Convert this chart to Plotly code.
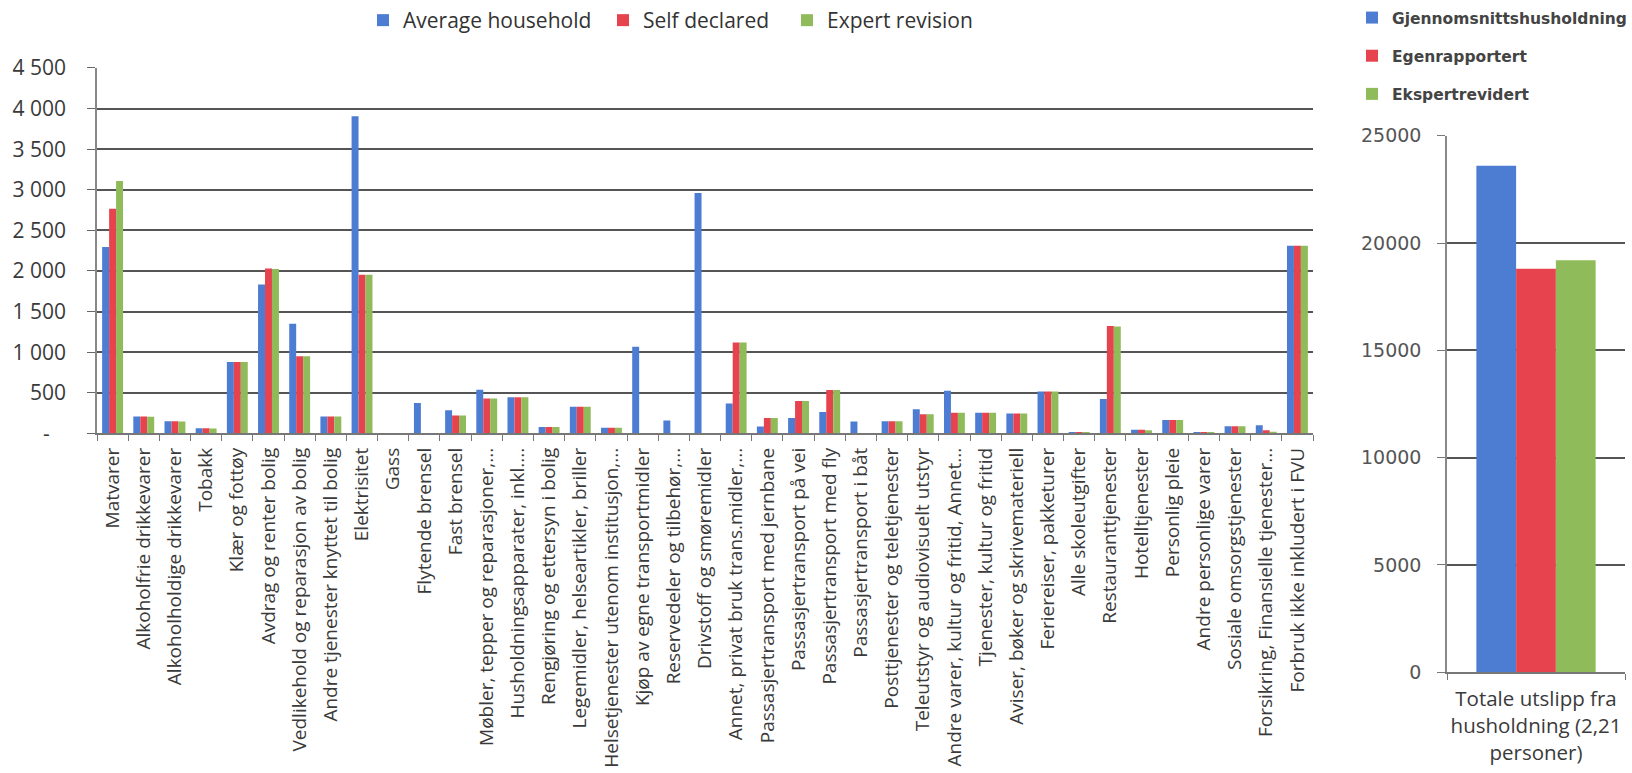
import plotly.graph_objects as go

W, H = 1632, 773

categories = [
    "Matvarer", "Alkoholfrie drikkevarer", "Alkoholholdige drikkevarer", "Tobakk",
    "Klær og fottøy", "Avdrag og renter bolig", "Vedlikehold og reparasjon av bolig",
    "Andre tjenester knyttet til bolig", "Elektrisitet", "Gass", "Flytende brensel",
    "Fast brensel", "Møbler, tepper og reparasjoner,...", "Husholdningsapparater, inkl....",
    "Rengjøring og ettersyn i bolig", "Legemidler, helseartikler, briller",
    "Helsetjenester utenom institusjon,...", "Kjøp av egne transportmidler",
    "Reservedeler og tilbehør,...", "Drivstoff og smøremidler",
    "Annet, privat bruk trans.midler,...", "Passasjertransport med jernbane",
    "Passasjertransport på vei", "Passasjertransport med fly", "Passasjertransport i båt",
    "Posttjenester og teletjenester", "Teleutstyr og audiovisuelt utstyr",
    "Andre varer, kultur og fritid, Annet...", "Tjenester, kultur og fritid",
    "Aviser, bøker og skrivemateriell", "Feriereiser, pakketurer", "Alle skoleutgifter",
    "Restauranttjenester", "Hotelltjenester", "Personlig pleie", "Andre personlige varer",
    "Sosiale omsorgstjenester", "Forsikring, Finansielle tjenester...",
    "Forbruk ikke inkludert i FVU",
]

average_household = [
    2295, 210, 150, 65, 880, 1835, 1350, 210, 3905, 0, 375,
    285, 537, 445, 78, 328, 70, 1067, 160, 2960, 370, 85,
    190, 265, 148, 150, 298, 527, 255, 245, 515, 8,
    425, 45, 165, 18, 88, 100, 2310,
]
self_declared = [
    2766, 210, 150, 65, 880, 2029, 950, 210, 1955, 0, 0,
    222, 430, 445, 78, 328, 70, 0, 5, 0, 1118, 190,
    400, 535, 0, 150, 235, 256, 255, 245, 515, 8,
    1322, 45, 165, 18, 88, 40, 2310,
]
expert_revision = [
    3107, 205, 148, 60, 880, 2025, 950, 210, 1955, 0, 0,
    222, 430, 445, 78, 328, 70, 0, 5, 0, 1118, 190,
    400, 535, 0, 150, 235, 256, 255, 245, 515, 8,
    1318, 40, 165, 15, 88, 22, 2310,
]

left_names = ["Average household", "Self declared", "Expert revision"]
left_tickvals = [0, 500, 1000, 1500, 2000, 2500, 3000, 3500, 4000, 4500]
left_ticktext = ["-\u00a0\u00a0\u00a0", "500", "1 000", "1 500", "2 000", "2 500",
                 "3 000", "3 500", "4 000", "4 500"]

total_category = ["Totale utslipp fra<br>husholdning (2,21<br>personer)"]
total_names = ["Gjennomsnittshusholdning", "Egenrapportert", "Ekspertrevidert"]
total_values = [23600, 18800, 19200]
right_tickvals = [0, 5000, 10000, 15000, 20000, 25000]

colors = ["#4d7dd2", "#e6434f", "#90bb5b"]
left_legend_widths = [195, 139, 150]

fig = go.Figure()

for name, vals, col, lw in zip(left_names, [average_household, self_declared, expert_revision],
                               colors, left_legend_widths):
    fig.add_trace(go.Bar(
        x=categories, y=vals, name=name, marker=dict(color=col, line=dict(width=0)),
        xaxis="x", yaxis="y", legend="legend", legendwidth=lw,
    ))

for i, (name, val, col) in enumerate(zip(total_names, total_values, colors)):
    fig.add_trace(go.Bar(
        x=total_category, y=[val], name=name, marker=dict(color=col, line=dict(width=0)),
        xaxis="x2", yaxis="y2", legend="legend2", legendgroup=f"g{i}",
    ))

def px_x(p):
    return p / W

def px_y(p):
    return 1 - p / H

fig.update_layout(
    width=W, height=H,
    margin=dict(l=0, r=0, t=0, b=0),
    paper_bgcolor="white", plot_bgcolor="white",
    barmode="group",
    bargap=0.33, bargroupgap=0,
    showlegend=True,
    xaxis=dict(
        domain=[px_x(97), px_x(1313)], anchor="y", type="category",
        tickangle=-90, tickfont=dict(family="Open Sans", size=19, color="#3a3a3a"),
        ticks="outside", tickson="boundaries", ticklabelstandoff=5,
        ticklen=6, tickcolor="#777", showline=True, linecolor="#777", linewidth=1.5,
        automargin=False, showgrid=False,
    ),
    yaxis=dict(
        domain=[px_y(433), px_y(67)], anchor="x", range=[0, 4500],
        tickvals=left_tickvals, ticktext=left_ticktext,
        tickfont=dict(family="Open Sans", size=21, color="#3a3a3a"),
        ticks="outside", ticklen=8, tickcolor="#666", ticklabelstandoff=17,
        showline=True, linecolor="#888", linewidth=1.5,
        showgrid=True, gridcolor="#555", gridwidth=1.7, zeroline=False,
        automargin=False,
    ),
    xaxis2=dict(
        domain=[px_x(1447), px_x(1625)], anchor="y2", type="category",
        tickangle=0, tickfont=dict(family="Open Sans", size=20.5, color="#3a3a3a"),
        ticks="outside", tickson="boundaries", ticklen=6, tickcolor="#777",
        ticklabelstandoff=8,
        showline=True, linecolor="#777", linewidth=1.5, automargin=False, showgrid=False,
    ),
    yaxis2=dict(
        domain=[px_y(672), px_y(135)], anchor="x2", range=[0, 25000],
        tickvals=right_tickvals,
        tickfont=dict(family="DejaVu Sans", size=19, color="#555"),
        ticks="outside", ticklen=8, tickcolor="#777", ticklabelstandoff=12,
        showline=True, linecolor="#888", linewidth=1.5,
        showgrid=True, gridcolor="#555", gridwidth=1.7, zeroline=False,
        automargin=False, tickformat="d",
    ),
    legend=dict(
        orientation="h", x=px_x(363), y=px_y(20), xanchor="left", yanchor="middle",
        font=dict(family="Open Sans", size=21, color="#333"), bgcolor="rgba(0,0,0,0)",
        itemclick=False, itemdoubleclick=False, traceorder="normal",
    ),
    legend2=dict(
        orientation="v", x=px_x(1352), y=px_y(1), xanchor="left", yanchor="top",
        font=dict(family="DejaVu Sans", size=15.5, color="#444", weight="bold"),
        bgcolor="rgba(0,0,0,0)", traceorder="grouped", tracegroupgap=15,
        itemclick=False, itemdoubleclick=False,
    ),
)

fig.write_html("out.html")
